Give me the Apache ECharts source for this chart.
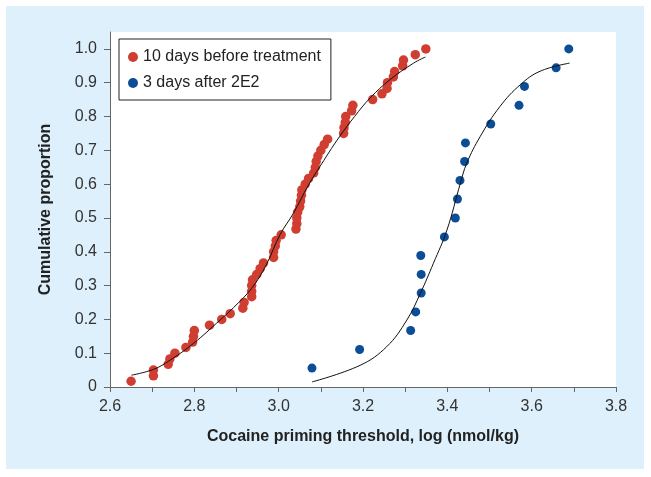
<!DOCTYPE html>
<html>
<head>
<meta charset="utf-8">
<script src="https://cdn.jsdelivr.net/npm/echarts@6/dist/echarts.min.js"></script>
<style>
html,body{margin:0;padding:0;background:#ffffff;}
#chart{width:651px;height:477px;}
</style>
</head>
<body>
<div id="chart"></div>
<script>
// ---- data ----
var seriesNames = ['10 days before treatment', '3 days after 2E2'];

var redX = [2.650,2.703,2.703,2.738,2.742,2.754,2.780,2.796,2.798,2.800,
            2.836,2.865,2.885,2.915,2.918,2.936,2.936,2.936,2.938,2.948,
            2.956,2.964,2.988,2.988,2.992,2.994,3.006,3.041,3.043,3.043,
            3.045,3.050,3.052,3.054,3.055,3.063,3.071,3.083,3.087,3.089,
            3.093,3.100,3.108,3.116,3.154,3.155,3.158,3.159,3.173,3.176,
            3.223,3.245,3.257,3.258,3.272,3.275,3.294,3.296,3.324,3.349];
var redY = [0.017,0.033,0.050,0.067,0.083,0.100,0.117,0.133,0.150,0.167,
            0.183,0.200,0.217,0.233,0.250,0.267,0.283,0.300,0.317,0.333,
            0.350,0.367,0.383,0.400,0.417,0.433,0.450,0.467,0.483,0.500,
            0.517,0.533,0.550,0.567,0.583,0.600,0.617,0.633,0.650,0.667,
            0.683,0.700,0.717,0.733,0.750,0.767,0.783,0.800,0.817,0.833,
            0.850,0.867,0.883,0.900,0.917,0.933,0.950,0.967,0.983,1.000];

var blueX = [3.079,3.192,3.313,3.325,3.338,3.338,3.337,3.393,3.419,
             3.424,3.430,3.441,3.443,3.503,3.570,3.583,3.658,3.688];
var blueY = [0.056,0.111,0.167,0.222,0.278,0.333,0.389,0.444,0.500,
             0.556,0.611,0.667,0.722,0.778,0.833,0.889,0.944,1.000];

// fitted curves, points
var redCurveX = [2.651,2.703,2.742,2.798,2.861,2.893,2.936,2.970,3.003,3.035,3.071,3.107,3.144,3.180,3.217,3.264,3.320,3.348];
var redCurveY = [0.035,0.052,0.079,0.129,0.198,0.235,0.292,0.360,0.450,0.514,0.598,0.670,0.740,0.800,0.855,0.909,0.958,0.976];
var blueCurveX = [3.079,3.193,3.256,3.304,3.336,3.367,3.399,3.431,3.446,3.478,3.525,3.573,3.620,3.690];
var blueCurveY = [0.015,0.064,0.119,0.198,0.277,0.366,0.464,0.603,0.662,0.741,0.830,0.894,0.934,0.958];

var xTicks = [2.6,2.7,2.8,2.9,3.0,3.1,3.2,3.3,3.4,3.5,3.6,3.7,3.8];
var xLabels = [2.6,2.8,3.0,3.2,3.4,3.6,3.8];
var yTicks = [0,0.1,0.2,0.3,0.4,0.5,0.6,0.7,0.8,0.9,1.0];

var xTitle = 'Cocaine priming threshold, log (nmol/kg)';
var yTitle = 'Cumulative proportion';

var redColor = '#cf3e31';
var blueColor = '#0b4d97';

function zip(a, b) { return a.map(function (v, i) { return [v, b[i]]; }); }

var chart = echarts.init(document.getElementById('chart'), null, {renderer: 'canvas'});
var font = 'Liberation Sans, Arial, Helvetica, sans-serif';

chart.setOption({
  backgroundColor: '#ffffff',
  animation: false,
  textStyle: {fontFamily: font},
  graphic: [{
    type: 'rect', z: -10, silent: true,
    shape: {x: 6, y: 6, width: 638, height: 463},
    style: {fill: '#ddf0fb'}
  }],
  grid: {
    left: 110, right: 35, top: 32, bottom: 90,
    show: true, backgroundColor: '#ffffff', borderWidth: 0
  },
  legend: {
    orient: 'vertical',
    left: 119, top: 39,
    padding: [10, 10, 9, 9],
    itemGap: 10,
    itemWidth: 10, itemHeight: 10,
    itemTextGap: 7,
    icon: 'circle',
    backgroundColor: '#ffffff',
    borderColor: '#222222', borderWidth: 1,
    textStyle: {fontSize: 16, color: '#222222', fontFamily: font},
    data: seriesNames
  },
  xAxis: {
    type: 'value', min: 2.6, max: 3.8, interval: 0.1,
    name: xTitle, nameLocation: 'middle', nameGap: 42,
    nameTextStyle: {fontSize: 16, fontWeight: 'bold', color: '#222222', fontFamily: font},
    axisLine: {show: true, lineStyle: {color: '#666666', width: 1}},
    axisTick: {show: true, length: 5, lineStyle: {color: '#666666'}, customValues: xTicks},
    splitLine: {show: false},
    axisLabel: {
      fontSize: 16, color: '#333333', margin: 12, fontFamily: font,
      customValues: xLabels,
      formatter: function (v) { return Number(v).toFixed(1); }
    }
  },
  yAxis: {
    type: 'value', min: 0, max: 1.05, interval: 0.1,
    name: yTitle, nameLocation: 'middle', nameGap: 56, nameRotate: 90,
    nameTextStyle: {fontSize: 16, fontWeight: 'bold', color: '#222222', fontFamily: font},
    axisLine: {show: true, lineStyle: {color: '#666666', width: 1}},
    axisTick: {show: true, length: 6, lineStyle: {color: '#666666'}, customValues: yTicks},
    splitLine: {show: false},
    axisLabel: {
      fontSize: 16, color: '#333333', margin: 13, fontFamily: font,
      customValues: yTicks,
      formatter: function (v) { return Math.abs(v) < 1e-9 ? '0' : Number(v).toFixed(1); }
    }
  },
  series: [
    {
      name: seriesNames[0], type: 'scatter', symbol: 'circle', symbolSize: 9.5,
      itemStyle: {color: redColor, opacity: 1}, data: zip(redX, redY), z: 2
    },
    {
      name: seriesNames[1], type: 'scatter', symbol: 'circle', symbolSize: 9,
      itemStyle: {color: blueColor, opacity: 1}, data: zip(blueX, blueY), z: 2
    },
    {
      name: 'fit1', type: 'line', smooth: 0.4, showSymbol: false, symbol: 'none',
      lineStyle: {color: '#111111', width: 1}, data: zip(redCurveX, redCurveY), z: 3
    },
    {
      name: 'fit2', type: 'line', smooth: 0.4, showSymbol: false, symbol: 'none',
      lineStyle: {color: '#111111', width: 1}, data: zip(blueCurveX, blueCurveY), z: 3
    }
  ]
});
</script>
</body>
</html>
